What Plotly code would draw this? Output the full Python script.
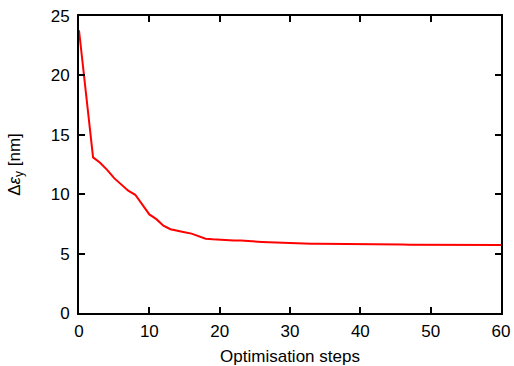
import plotly.graph_objects as go

steps = list(range(0, 61))
delta_eps_y = [
    23.8, 18.5, 13.1, 12.65, 12.05, 11.35, 10.8, 10.3, 9.95, 9.1,
    8.3, 7.9, 7.35, 7.05, 6.9, 6.8, 6.68, 6.45, 6.25, 6.2,
    6.15, 6.13, 6.11, 6.1, 6.08, 6.02, 5.98, 5.95, 5.92, 5.89,
    5.87, 5.85, 5.84, 5.83, 5.82, 5.82, 5.81, 5.8, 5.8, 5.79,
    5.79, 5.78, 5.78, 5.77, 5.77, 5.76, 5.76, 5.75, 5.75, 5.75,
    5.74, 5.74, 5.74, 5.74, 5.73, 5.73, 5.73, 5.73, 5.72, 5.72, 5.72,
]
x_ticks = [0, 10, 20, 30, 40, 50, 60]
y_ticks = [0, 5, 10, 15, 20, 25]

fig = go.Figure()
fig.add_trace(go.Scatter(x=steps, y=delta_eps_y, mode="lines",
                         line=dict(color="#ff0000", width=2), showlegend=False))

font = dict(family="Liberation Sans, Arial, sans-serif", size=17, color="black")
axis_common = dict(showgrid=False, zeroline=False, showline=True, linecolor="black",
                   linewidth=2, mirror="ticks", ticks="inside", ticklen=6,
                   tickwidth=1.5, tickcolor="black", tickfont=font, automargin=False)

fig.update_layout(
    width=514, height=366,
    margin=dict(l=79, r=13, t=16, b=53),
    plot_bgcolor="white", paper_bgcolor="white",
    font=font,
    xaxis=dict(range=[0, 60], tickvals=x_ticks, ticklabelstandoff=2,
               title=dict(text="Optimisation steps", font=font, standoff=10),
               **axis_common),
    yaxis=dict(range=[0, 25], tickvals=y_ticks, ticklabelstandoff=4,
               title=dict(text="Δ<i>ε</i><sub>y</sub> [nm]", font=font, standoff=26),
               **axis_common),
)

fig.write_html("out.html")
